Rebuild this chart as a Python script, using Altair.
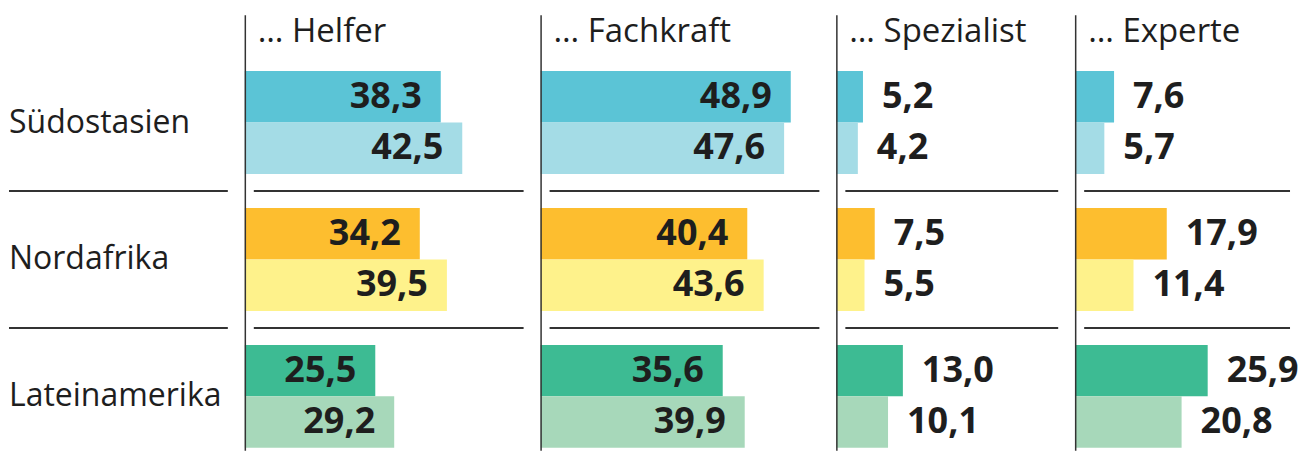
import altair as alt
import pandas as pd

# ---------------- data ----------------
regions = ["Südostasien", "Nordafrika", "Lateinamerika"]
levels = ["… Helfer", "… Fachkraft", "… Spezialist", "… Experte"]
series = ["Reihe 1", "Reihe 2"]

# values per region: [Helfer, Fachkraft, Spezialist, Experte]
suedostasien_1 = [38.3, 48.9, 5.2, 7.6]
suedostasien_2 = [42.5, 47.6, 4.2, 5.7]
nordafrika_1 = [34.2, 40.4, 7.5, 17.9]
nordafrika_2 = [39.5, 43.6, 5.5, 11.4]
lateinamerika_1 = [25.5, 35.6, 13.0, 25.9]
lateinamerika_2 = [29.2, 39.9, 10.1, 20.8]

colors = {
    ("Südostasien", "Reihe 1"): "#5bc4d6",
    ("Südostasien", "Reihe 2"): "#a4dce6",
    ("Nordafrika", "Reihe 1"): "#fdbe2f",
    ("Nordafrika", "Reihe 2"): "#fef28b",
    ("Lateinamerika", "Reihe 1"): "#3dbb93",
    ("Lateinamerika", "Reihe 2"): "#a7d8ba",
}

table = {
    ("Südostasien", "Reihe 1"): suedostasien_1,
    ("Südostasien", "Reihe 2"): suedostasien_2,
    ("Nordafrika", "Reihe 1"): nordafrika_1,
    ("Nordafrika", "Reihe 2"): nordafrika_2,
    ("Lateinamerika", "Reihe 1"): lateinamerika_1,
    ("Lateinamerika", "Reihe 2"): lateinamerika_2,
}

rows = []
for (reg, ser), vals in table.items():
    for lev, v in zip(levels, vals):
        rows.append({
            "region": reg, "series": ser, "level": lev, "value": v,
            "key": f"{reg}|{ser}",
            "label": f"{v:.1f}".replace(".", ","),
        })
df = pd.DataFrame(rows)
keys = [f"{r}|{s}" for (r, s) in colors]
key_colors = list(colors.values())

# ---------------- layout ----------------
H = 443
PX_PER_UNIT = 5.12
FONT = "Open Sans"
INK = "#1e1e1e"
LINE = "#333333"
NUM_SIZE = 36

yscale = alt.Scale(domain=regions, range=[63, 440], paddingInner=0.248, paddingOuter=0)
yoff_scale = alt.Scale(domain=series, paddingInner=0, paddingOuter=0)
sep_df = pd.DataFrame({"region": regions[:2]})


def panel(level, width, inside):
    d = df[df["level"] == level]
    xscale = alt.Scale(domain=[0, width / PX_PER_UNIT], nice=False, zero=True)
    enc = dict(
        x=alt.X("value:Q", scale=xscale, axis=None),
        y=alt.Y("region:N", scale=yscale, axis=None, sort=regions),
        yOffset=alt.YOffset("series:N", scale=yoff_scale, sort=series),
    )
    bars = alt.Chart(d).mark_bar(cornerRadius=0).encode(
        color=alt.Color("key:N", scale=alt.Scale(domain=keys, range=key_colors), legend=None),
        **enc,
    )
    if inside:
        txt_mark = alt.Chart(d).mark_text(align="right", dx=-19, baseline="middle",
                                          font=FONT, fontSize=NUM_SIZE, fontWeight="bold", color=INK)
    else:
        txt_mark = alt.Chart(d).mark_text(align="left", dx=19, baseline="middle",
                                          font=FONT, fontSize=NUM_SIZE, fontWeight="bold", color=INK)
    labels = txt_mark.encode(text="label:N", **enc)
    seps = alt.Chart(sep_df).mark_rule(yOffset=68.5, color=LINE, strokeWidth=2).encode(
        y=alt.Y("region:N", scale=yscale, axis=None, sort=regions),
        x=alt.value(9), x2=alt.value(width - 17),
    )
    head_df = pd.DataFrame({"t": [level]})
    vline = alt.Chart(head_df).mark_rule(color=LINE, strokeWidth=1.5).encode(
        x=alt.value(0.5), y=alt.value(7), y2=alt.value(H),
    )
    head = alt.Chart(head_df).mark_text(align="left", baseline="alphabetic", font=FONT,
                                        fontSize=33, color=INK).encode(
        x=alt.value(13), y=alt.value(34), text="t:N",
    )
    return alt.layer(bars, labels, seps, vline, head).properties(width=width, height=H)


label_df = pd.DataFrame({"region": regions})
label_col = alt.layer(
    alt.Chart(label_df).mark_text(align="left", baseline="middle", font=FONT,
                                  fontSize=32, color=INK).encode(
        y=alt.Y("region:N", scale=yscale, axis=None, sort=regions),
        x=alt.value(0), text="region:N",
    ),
    alt.Chart(sep_df).mark_rule(yOffset=68.5, color=LINE, strokeWidth=2).encode(
        y=alt.Y("region:N", scale=yscale, axis=None, sort=regions),
        x=alt.value(0), x2=alt.value(219),
    ),
).properties(width=236, height=H)

widths = [296, 296, 239, 232]
inside = [True, True, False, False]
panels = [panel(l, w, i) for l, w, i in zip(levels, widths, inside)]

chart = alt.hconcat(label_col, *panels, spacing=0, bounds="flush").properties(
    padding=0, background="white"
).configure_view(stroke=None)

chart.save("out.html", embed_options={"renderer": "svg", "actions": False})
